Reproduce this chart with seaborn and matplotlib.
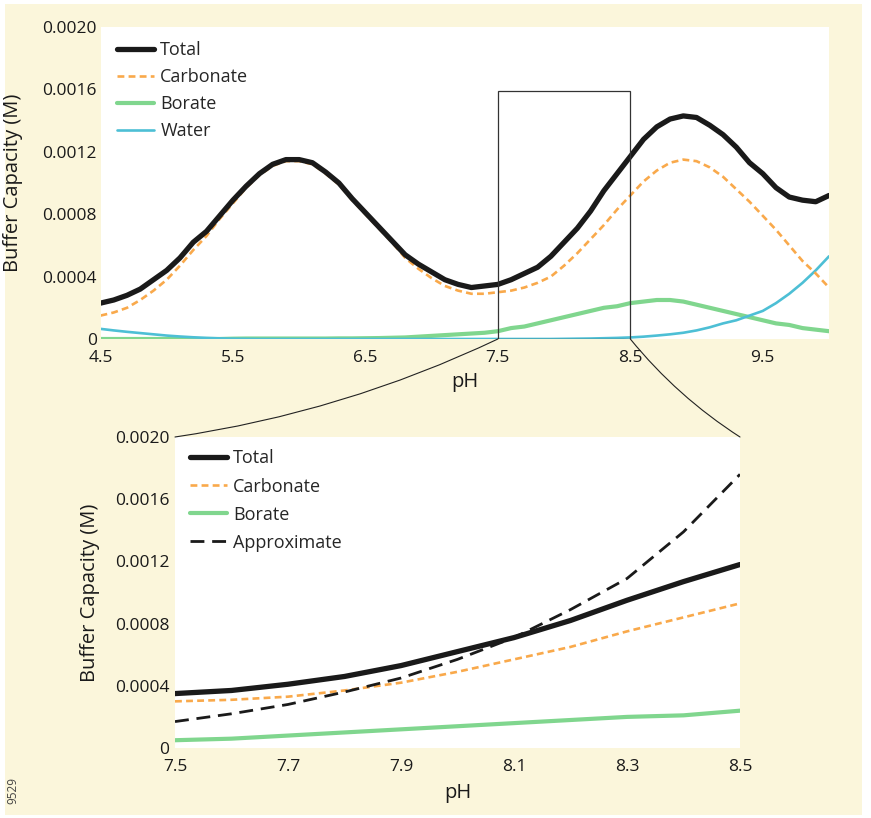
import matplotlib
matplotlib.use("Agg")
import matplotlib.pyplot as plt
import numpy as np
import pandas as pd
import seaborn as sns
from matplotlib.patches import Rectangle, ConnectionPatch

# ---------------- data ----------------
ph_full = [4.5, 4.6, 4.7, 4.8, 4.9,
           5.0, 5.1, 5.2, 5.3, 5.4, 5.5, 5.6, 5.7, 5.8, 5.9,
           6.0, 6.1, 6.2, 6.3, 6.4, 6.5, 6.6, 6.7, 6.8, 6.9,
           7.0, 7.1, 7.2, 7.3, 7.4, 7.5, 7.6, 7.7, 7.8, 7.9,
           8.0, 8.1, 8.2, 8.3, 8.4, 8.5, 8.6, 8.7, 8.8, 8.9,
           9.0, 9.1, 9.2, 9.3, 9.4, 9.5, 9.6, 9.7, 9.8, 9.9,
           10.0]
total_full = [0.00023, 0.00025, 0.00028, 0.00032, 0.00038,
              0.00044, 0.00052, 0.00062, 0.00069, 0.00079, 0.00089, 0.00098, 0.00106, 0.00112, 0.00115,
              0.00115, 0.00113, 0.00107, 0.00100, 0.00090, 0.00081, 0.00072, 0.00063, 0.00054, 0.00048,
              0.00043, 0.00038, 0.00035, 0.00033, 0.00034, 0.00035, 0.00038, 0.00042, 0.00046, 0.00053,
              0.00062, 0.00071, 0.00082, 0.00095, 0.00106, 0.00117, 0.00128, 0.00136, 0.00141, 0.00143,
              0.00142, 0.00137, 0.00131, 0.00123, 0.00113, 0.00106, 0.00097, 0.00091, 0.00089, 0.00088,
              0.00092]
carbonate_full = [0.00015, 0.00017, 0.00020, 0.00025, 0.00031,
                  0.00038, 0.00047, 0.00057, 0.00066, 0.00077, 0.00087, 0.00097, 0.00105, 0.00111, 0.00114,
                  0.00114, 0.00112, 0.00106, 0.00099, 0.00089, 0.00080, 0.00071, 0.00062, 0.00052, 0.00045,
                  0.00039, 0.00034, 0.00031, 0.00029, 0.00029, 0.00030, 0.00031, 0.00033, 0.00036, 0.00040,
                  0.00047, 0.00055, 0.00064, 0.00073, 0.00083, 0.00092, 0.00101, 0.00108, 0.00113, 0.00115,
                  0.00114, 0.00110, 0.00104, 0.00096, 0.00088, 0.00079, 0.00070, 0.00060, 0.00050, 0.00042,
                  0.00033]
borate_full = [0.0, 0.0, 0.0, 0.0, 0.0,
               0.0, 0.0, 0.0, 0.0, 0.0, 0.000002, 0.000003, 0.000003, 0.000003, 0.000003,
               0.000003, 0.000003, 0.000003, 0.000004, 0.000004, 0.000005, 0.000006, 0.000008, 0.00001, 0.000015,
               0.00002, 0.000025, 0.00003, 0.000035, 0.00004, 0.00005, 0.00007, 0.00008, 0.00010, 0.00012,
               0.00014, 0.00016, 0.00018, 0.00020, 0.00021, 0.00023, 0.00024, 0.00025, 0.00025, 0.00024,
               0.00022, 0.00020, 0.00018, 0.00016, 0.00014, 0.00012, 0.00010, 0.00009, 0.00007, 0.00006,
               0.00005]
water_full = [0.000065, 0.000055, 0.000046, 0.000038, 0.00003,
              0.000022, 0.000016, 0.000011, 0.000007, 0.000004, 0.000002, 0.000001, 0.0, 0.0, 0.0,
              0.0, 0.0, 0.0, 0.0, 0.0, 0.0, 0.0, 0.0, 0.0, 0.0,
              0.0, 0.0, 0.0, 0.0, 0.0, 0.0, 0.0, 0.0, 0.0, 0.0,
              0.000001, 0.000002, 0.000003, 0.000005, 0.000007, 0.00001, 0.000015, 0.000022, 0.00003, 0.00004,
              0.000055, 0.000075, 0.00010, 0.00012, 0.00015, 0.00018, 0.00023, 0.00029, 0.00036, 0.00044,
              0.00053]

ph_zoom = [7.5, 7.6, 7.7, 7.8, 7.9, 8.0, 8.1, 8.2, 8.3, 8.4, 8.5]
total_zoom = [0.00035, 0.00037, 0.00041, 0.00046, 0.00053, 0.00062, 0.00071, 0.00082, 0.00095, 0.00107, 0.00118]
carbonate_zoom = [0.00030, 0.00031, 0.00033, 0.00037, 0.00042, 0.00049, 0.00057, 0.00065, 0.00075, 0.00084, 0.00093]
borate_zoom = [0.00005, 0.00006, 0.00008, 0.00010, 0.00012, 0.00014, 0.00016, 0.00018, 0.00020, 0.00021, 0.00024]
approx_zoom = [0.00017, 0.00022, 0.00028, 0.00036, 0.00045, 0.00057, 0.00071, 0.00089, 0.00109, 0.00139, 0.00176]

top_xticks = [4.5, 5.5, 6.5, 7.5, 8.5, 9.5]
zoom_xticks = [7.5, 7.7, 7.9, 8.1, 8.3, 8.5]
yticks = [0, 0.0004, 0.0008, 0.0012, 0.0016, 0.0020]
ytick_labels = ["0", "0.0004", "0.0008", "0.0012", "0.0016", "0.0020"]

# ---------------- style ----------------
sns.set_theme(style="white")
plt.rcParams["font.family"] = ["Open Sans", "DejaVu Sans"]

C_TOTAL = "#1a1a1a"
C_CARB = "#F9A94B"
C_BOR = "#80D68E"
C_WAT = "#4DBFD5"
BG = "#FBF6DB"

W, H = 871, 818
fig = plt.figure(figsize=(W / 100, H / 100), dpi=100, facecolor="white")
fig.patches.append(Rectangle((5 / W, 3 / H), 857 / W, 811 / H, transform=fig.transFigure,
                             facecolor=BG, edgecolor="none", zorder=-10))

ax1 = fig.add_axes([100.5 / W, (H - 339) / H, 728.5 / W, 312 / H])
ax2 = fig.add_axes([175 / W, (H - 748) / H, 565 / W, 311 / H])

df_full = pd.DataFrame({"pH": ph_full, "Total": total_full, "Carbonate": carbonate_full,
                        "Borate": borate_full, "Water": water_full})
df_zoom = pd.DataFrame({"pH": ph_zoom, "Total": total_zoom, "Carbonate": carbonate_zoom,
                        "Borate": borate_zoom, "Approximate": approx_zoom})

# top panel
sns.lineplot(data=df_full, x="pH", y="Total", ax=ax1, color=C_TOTAL, lw=3.8, label="Total", zorder=5)
sns.lineplot(data=df_full, x="pH", y="Carbonate", ax=ax1, color=C_CARB, lw=1.9,
             linestyle=(0, (2.6, 1.6)), label="Carbonate", zorder=4)
sns.lineplot(data=df_full, x="pH", y="Borate", ax=ax1, color=C_BOR, lw=3.0, label="Borate", zorder=3)
sns.lineplot(data=df_full, x="pH", y="Water", ax=ax1, color=C_WAT, lw=1.9, label="Water", zorder=3.5)
ax1.add_patch(Rectangle((7.5, 0), 1.0, 0.00159, facecolor="none", edgecolor="#333333", lw=0.9, zorder=6))

# bottom panel
sns.lineplot(data=df_zoom, x="pH", y="Total", ax=ax2, color=C_TOTAL, lw=3.8, label="Total", zorder=5)
sns.lineplot(data=df_zoom, x="pH", y="Carbonate", ax=ax2, color=C_CARB, lw=1.9,
             linestyle=(0, (2.6, 1.6)), label="Carbonate", zorder=4)
sns.lineplot(data=df_zoom, x="pH", y="Borate", ax=ax2, color=C_BOR, lw=3.0, label="Borate", zorder=3)
sns.lineplot(data=df_zoom, x="pH", y="Approximate", ax=ax2, color=C_TOTAL, lw=2.0,
             linestyle=(0, (5.0, 2.8)), label="Approximate", zorder=6)

for ax, xlim, xt, xlab_y, ylab_x, lx, ly, ypad, lsp in [
        (ax1, (4.5, 10.0), top_xticks, -0.106, -0.12, 0.0227, 0.955, 2.5, 0.5),
        (ax2, (7.5, 8.5), zoom_xticks, -0.114, -0.15, 0.0265, 0.96, 4.0, 0.56)]:
    ax.set_facecolor("white")
    ax.set_xlim(*xlim)
    ax.set_ylim(0, 0.0020)
    ax.set_xticks(xt)
    ax.set_xticklabels([f"{v:.1f}" for v in xt])
    ax.set_yticks(yticks)
    ax.set_yticklabels(ytick_labels)
    ax.tick_params(axis="both", length=0, labelsize=12.5, colors="#1a1a1a")
    ax.tick_params(axis="x", pad=8)
    ax.tick_params(axis="y", pad=ypad)
    for s in ax.spines.values():
        s.set_visible(False)
    ax.set_xlabel("pH", fontsize=14.5, color="#1a1a1a")
    ax.set_ylabel("Buffer Capacity (M)", fontsize=14.5, color="#1a1a1a")
    ax.xaxis.set_label_coords(0.5, xlab_y)
    ax.xaxis.label.set_va("top")
    ax.yaxis.set_label_coords(ylab_x, 0.5)
    ax.yaxis.label.set_va("center")
    leg = ax.legend(loc="upper left", bbox_to_anchor=(lx, ly), frameon=False, fontsize=13,
                    handlelength=2.05, handletextpad=0.35, labelspacing=lsp,
                    borderpad=0, borderaxespad=0)

# connector lines
con1 = ConnectionPatch(xyA=(7.5, 0.0020), coordsA=ax2.transData, xyB=(7.5, 0.0), coordsB=ax1.transData,
                       connectionstyle="arc3,rad=0.075", color="#222222", lw=0.8, zorder=20)
con2 = ConnectionPatch(xyA=(8.5, 0.0020), coordsA=ax2.transData, xyB=(8.5, 0.0), coordsB=ax1.transData,
                       connectionstyle="arc3,rad=-0.08", color="#222222", lw=0.8, zorder=20)
fig.add_artist(con1)
fig.add_artist(con2)

fig.text(13 / W, (H - 791) / H, "9529", rotation=90, fontsize=8.5, color="#444444",
         ha="center", va="center")

fig.savefig("out.png", dpi=100, facecolor="white")
